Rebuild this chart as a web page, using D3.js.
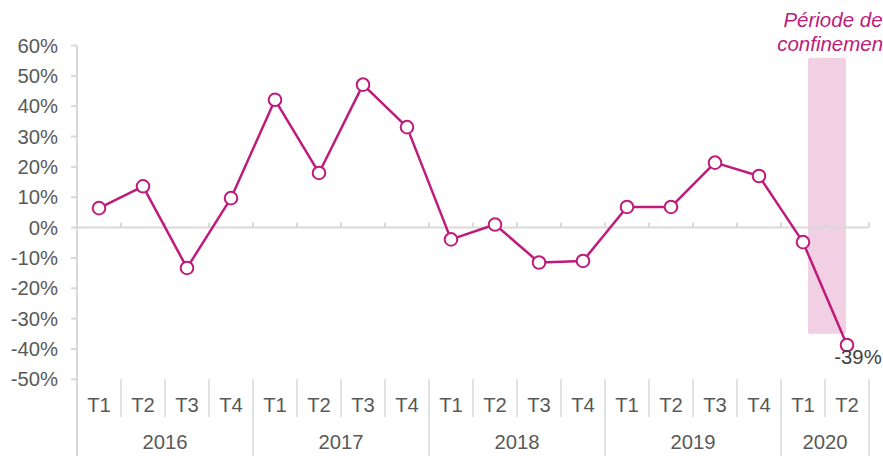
<!DOCTYPE html>
<html><head><meta charset="utf-8">
<script src="https://cdn.jsdelivr.net/npm/d3@7"></script>
<style>
html,body{margin:0;padding:0;background:#fff;overflow:hidden}
svg{display:block;font-family:"Liberation Sans",Arial,sans-serif}
</style></head>
<body><svg id="c" width="883" height="456"></svg>
<script>
const years = ["2016","2017","2018","2019","2020"];
const quarters = ["T1","T2","T3","T4"];
const periods = [
  ["2016","T1"],["2016","T2"],["2016","T3"],["2016","T4"],
  ["2017","T1"],["2017","T2"],["2017","T3"],["2017","T4"],
  ["2018","T1"],["2018","T2"],["2018","T3"],["2018","T4"],
  ["2019","T1"],["2019","T2"],["2019","T3"],["2019","T4"],
  ["2020","T1"],["2020","T2"]
];
const values = [6.4, 13.6, -13.3, 9.7, 42.1, 18.0, 47.1, 33.1, -3.9, 1.0, -11.5, -11.0, 6.8, 6.8, 21.4, 17.0, -4.8, -38.7];
const yTicks = [60,50,40,30,20,10,0,-10,-20,-30,-40,-50];
const lockdown = {label: ["Période de","confinement"], top: 56, bottom: -35, lastLabel: "-39%"};

const svg = d3.select("#c");
const L = 77, R = 869, FS = 20.3;
const x = d3.scaleBand().domain(periods.map(d => d[0]+d[1])).range([L, R]);
const y = d3.scaleLinear().domain([-50, 60]).range([379.3, 45.5]);
const grey = "#d9d9d9", txt = "#595959", mag = "#BE1B7B";

// shaded lockdown rect
const bStart = x("2020T2");
svg.append("rect")
  .attr("x", bStart - 17).attr("width", 38)
  .attr("y", y(lockdown.top)).attr("height", y(lockdown.bottom) - y(lockdown.top))
  .attr("rx", 2).attr("fill", "#F2D0E3");
lockdown.label.forEach((t, i) => {
  svg.append("text").attr("x", bStart + 8).attr("y", 27 + i * 24)
    .attr("text-anchor", "middle").attr("font-style", "italic")
    .attr("font-size", 20.5).attr("fill", mag).text(t);
});

// y axis
svg.append("line").attr("x1", L).attr("x2", L).attr("y1", y(60)).attr("y2", 456)
  .attr("stroke", grey).attr("stroke-width", 2);
yTicks.forEach(t => {
  svg.append("line").attr("x1", L - 6).attr("x2", L).attr("y1", y(t)).attr("y2", y(t))
    .attr("stroke", grey).attr("stroke-width", 2);
  svg.append("text").attr("x", 58).attr("y", y(t)).attr("dy", "0.35em")
    .attr("text-anchor", "end").attr("font-size", FS).attr("fill", txt).text(t + "%");
});

// zero line with small tick marks
svg.append("line").attr("x1", L).attr("x2", R).attr("y1", y(0)).attr("y2", y(0))
  .attr("stroke", grey).attr("stroke-width", 2);
periods.forEach((p, i) => {
  const xx = x(p[0]+p[1]) + x.bandwidth();
  svg.append("line").attr("x1", xx).attr("x2", xx).attr("y1", y(0) - 5).attr("y2", y(0))
    .attr("stroke", grey).attr("stroke-width", 2);
});

// category axis at bottom
periods.forEach((p, i) => {
  const x0 = x(p[0]+p[1]);
  svg.append("text").attr("x", x0 + x.bandwidth()/2).attr("y", 405).attr("dy", "0.35em")
    .attr("text-anchor", "middle").attr("font-size", FS).attr("fill", txt).text(p[1]);
  const isYearEnd = (i === periods.length - 1) || periods[i+1][0] !== p[0];
  svg.append("line").attr("x1", x0 + x.bandwidth()).attr("x2", x0 + x.bandwidth())
    .attr("y1", 379).attr("y2", isYearEnd ? 456 : 417)
    .attr("stroke", grey).attr("stroke-width", 1.5);
});
years.forEach(yr => {
  const ps = periods.filter(p => p[0] === yr);
  const a = x(ps[0][0]+ps[0][1]), b = x(ps[ps.length-1][0]+ps[ps.length-1][1]) + x.bandwidth();
  svg.append("text").attr("x", (a + b)/2).attr("y", 442).attr("dy", "0.35em")
    .attr("text-anchor", "middle").attr("font-size", FS).attr("fill", txt).text(yr);
});

// line
const line = d3.line().x((d, i) => x(periods[i][0]+periods[i][1]) + x.bandwidth()/2).y(d => y(d));
svg.append("path").datum(values).attr("d", line).attr("fill", "none")
  .attr("stroke", mag).attr("stroke-width", 2.5).attr("stroke-linejoin", "round");
svg.selectAll("circle.pt").data(values).enter().append("circle")
  .attr("cx", (d, i) => x(periods[i][0]+periods[i][1]) + x.bandwidth()/2)
  .attr("cy", d => y(d)).attr("r", 6.3)
  .attr("fill", "#fff").attr("stroke", mag).attr("stroke-width", 2);

// last label
const li = values.length - 1;
svg.append("text").attr("x", x(periods[li][0]+periods[li][1]) + x.bandwidth()/2 + 11)
  .attr("y", 364).attr("text-anchor", "middle").attr("font-size", FS).attr("fill", "#404040")
  .text(lockdown.lastLabel);
</script></body></html>
